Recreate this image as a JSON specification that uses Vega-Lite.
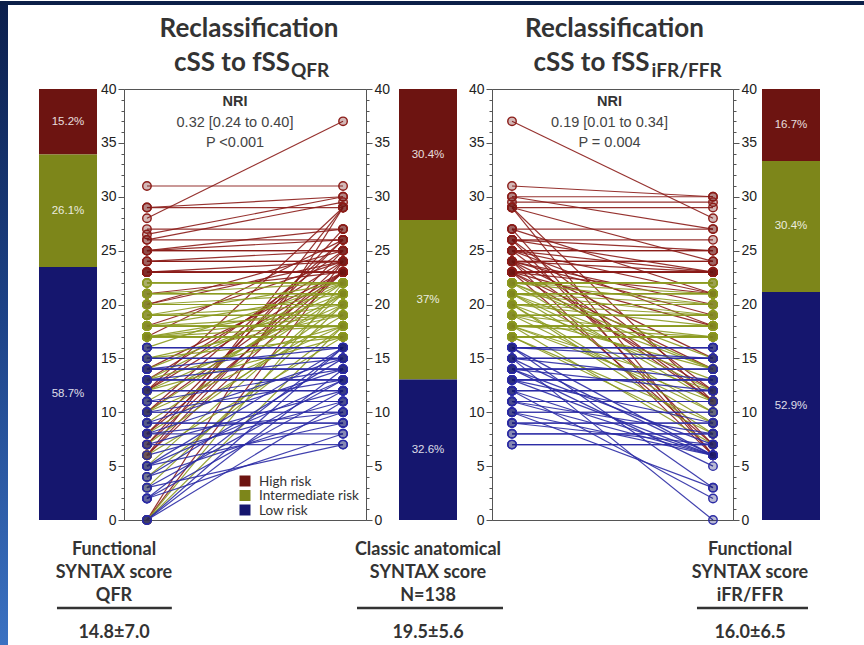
{
"$schema":"https://vega.github.io/schema/vega-lite/v6.json",
"padding":0,
"background":"white",
"config":{"view":{"stroke":null},"axis":{"labelFont":"Liberation Sans, Arial, sans-serif"}},
"datasets":{
"patients":[
{"id":1,"css":37,"qfr":28,"ifr":28,"risk":"High risk"},
{"id":2,"css":31,"qfr":31,"ifr":30,"risk":"High risk"},
{"id":3,"css":30,"qfr":26.5,"ifr":30,"risk":"High risk"},
{"id":4,"css":30,"qfr":29,"ifr":27,"risk":"High risk"},
{"id":5,"css":29.5,"qfr":26,"ifr":29.5,"risk":"High risk"},
{"id":6,"css":29,"qfr":29,"ifr":29,"risk":"High risk"},
{"id":7,"css":29,"qfr":0,"ifr":6,"risk":"High risk"},
{"id":8,"css":29,"qfr":6,"ifr":24,"risk":"High risk"},
{"id":9,"css":29,"qfr":12,"ifr":11,"risk":"High risk"},
{"id":10,"css":27,"qfr":27,"ifr":27,"risk":"High risk"},
{"id":11,"css":27,"qfr":25,"ifr":21,"risk":"High risk"},
{"id":12,"css":27,"qfr":7,"ifr":6,"risk":"High risk"},
{"id":13,"css":26,"qfr":26,"ifr":26,"risk":"High risk"},
{"id":14,"css":26,"qfr":25,"ifr":23,"risk":"High risk"},
{"id":15,"css":26,"qfr":17,"ifr":25,"risk":"High risk"},
{"id":16,"css":26,"qfr":8,"ifr":12,"risk":"High risk"},
{"id":17,"css":26,"qfr":10,"ifr":7,"risk":"High risk"},
{"id":18,"css":25,"qfr":25,"ifr":25,"risk":"High risk"},
{"id":19,"css":25,"qfr":25,"ifr":25,"risk":"High risk"},
{"id":20,"css":25,"qfr":24,"ifr":23,"risk":"High risk"},
{"id":21,"css":25,"qfr":6,"ifr":11,"risk":"High risk"},
{"id":22,"css":25,"qfr":12,"ifr":18,"risk":"High risk"},
{"id":23,"css":25,"qfr":20,"ifr":21,"risk":"High risk"},
{"id":24,"css":24,"qfr":24,"ifr":24,"risk":"High risk"},
{"id":25,"css":24,"qfr":24,"ifr":24,"risk":"High risk"},
{"id":26,"css":24,"qfr":23,"ifr":23,"risk":"High risk"},
{"id":27,"css":24,"qfr":13,"ifr":20,"risk":"High risk"},
{"id":28,"css":24,"qfr":7,"ifr":6,"risk":"High risk"},
{"id":29,"css":24,"qfr":18,"ifr":11,"risk":"High risk"},
{"id":30,"css":24,"qfr":0,"ifr":19,"risk":"High risk"},
{"id":31,"css":24,"qfr":20,"ifr":15,"risk":"High risk"},
{"id":32,"css":23,"qfr":23,"ifr":23,"risk":"High risk"},
{"id":33,"css":23,"qfr":23,"ifr":23,"risk":"High risk"},
{"id":34,"css":23,"qfr":23,"ifr":23,"risk":"High risk"},
{"id":35,"css":23,"qfr":23,"ifr":23,"risk":"High risk"},
{"id":36,"css":23,"qfr":12,"ifr":14,"risk":"High risk"},
{"id":37,"css":23,"qfr":14,"ifr":7,"risk":"High risk"},
{"id":38,"css":23,"qfr":8,"ifr":21,"risk":"High risk"},
{"id":39,"css":23,"qfr":23,"ifr":23,"risk":"High risk"},
{"id":40,"css":23,"qfr":21,"ifr":23,"risk":"High risk"},
{"id":41,"css":23,"qfr":6,"ifr":12,"risk":"High risk"},
{"id":42,"css":23,"qfr":10,"ifr":18,"risk":"High risk"},
{"id":43,"css":22,"qfr":22,"ifr":22,"risk":"Intermediate risk"},
{"id":44,"css":22,"qfr":22,"ifr":22,"risk":"Intermediate risk"},
{"id":45,"css":22,"qfr":21,"ifr":22,"risk":"Intermediate risk"},
{"id":46,"css":22,"qfr":22,"ifr":15,"risk":"Intermediate risk"},
{"id":47,"css":22,"qfr":16,"ifr":14,"risk":"Intermediate risk"},
{"id":48,"css":22,"qfr":10,"ifr":22,"risk":"Intermediate risk"},
{"id":49,"css":22,"qfr":0,"ifr":20,"risk":"Intermediate risk"},
{"id":50,"css":22,"qfr":19,"ifr":11,"risk":"Intermediate risk"},
{"id":51,"css":22,"qfr":13,"ifr":21,"risk":"Intermediate risk"},
{"id":52,"css":21,"qfr":21,"ifr":21,"risk":"Intermediate risk"},
{"id":53,"css":21,"qfr":21,"ifr":21,"risk":"Intermediate risk"},
{"id":54,"css":21,"qfr":20,"ifr":21,"risk":"Intermediate risk"},
{"id":55,"css":21,"qfr":21,"ifr":20,"risk":"Intermediate risk"},
{"id":56,"css":21,"qfr":11,"ifr":19,"risk":"Intermediate risk"},
{"id":57,"css":21,"qfr":5,"ifr":21,"risk":"Intermediate risk"},
{"id":58,"css":21,"qfr":18,"ifr":14,"risk":"Intermediate risk"},
{"id":59,"css":21,"qfr":21,"ifr":12,"risk":"Intermediate risk"},
{"id":60,"css":21,"qfr":14,"ifr":10,"risk":"Intermediate risk"},
{"id":61,"css":21,"qfr":9,"ifr":21,"risk":"Intermediate risk"},
{"id":62,"css":20,"qfr":20,"ifr":20,"risk":"Intermediate risk"},
{"id":63,"css":20,"qfr":20,"ifr":9,"risk":"Intermediate risk"},
{"id":64,"css":20,"qfr":19,"ifr":20,"risk":"Intermediate risk"},
{"id":65,"css":20,"qfr":12,"ifr":18,"risk":"Intermediate risk"},
{"id":66,"css":20,"qfr":20,"ifr":8,"risk":"Intermediate risk"},
{"id":67,"css":20,"qfr":7,"ifr":20,"risk":"Intermediate risk"},
{"id":68,"css":20,"qfr":17,"ifr":13,"risk":"Intermediate risk"},
{"id":69,"css":20,"qfr":3,"ifr":19,"risk":"Intermediate risk"},
{"id":70,"css":19,"qfr":19,"ifr":19,"risk":"Intermediate risk"},
{"id":71,"css":19,"qfr":19,"ifr":19,"risk":"Intermediate risk"},
{"id":72,"css":19,"qfr":18,"ifr":19,"risk":"Intermediate risk"},
{"id":73,"css":19,"qfr":17,"ifr":17,"risk":"Intermediate risk"},
{"id":74,"css":19,"qfr":19,"ifr":10,"risk":"Intermediate risk"},
{"id":75,"css":19,"qfr":8,"ifr":19,"risk":"Intermediate risk"},
{"id":76,"css":19,"qfr":15,"ifr":14,"risk":"Intermediate risk"},
{"id":77,"css":18,"qfr":18,"ifr":18,"risk":"Intermediate risk"},
{"id":78,"css":18,"qfr":18,"ifr":18,"risk":"Intermediate risk"},
{"id":79,"css":18,"qfr":18,"ifr":17,"risk":"Intermediate risk"},
{"id":80,"css":18,"qfr":10,"ifr":18,"risk":"Intermediate risk"},
{"id":81,"css":18,"qfr":17,"ifr":12,"risk":"Intermediate risk"},
{"id":82,"css":18,"qfr":4,"ifr":18,"risk":"Intermediate risk"},
{"id":83,"css":18,"qfr":18,"ifr":7,"risk":"Intermediate risk"},
{"id":84,"css":18,"qfr":13,"ifr":18,"risk":"Intermediate risk"},
{"id":85,"css":18,"qfr":0,"ifr":11,"risk":"Intermediate risk"},
{"id":86,"css":17,"qfr":17,"ifr":17,"risk":"Intermediate risk"},
{"id":87,"css":17,"qfr":17,"ifr":17,"risk":"Intermediate risk"},
{"id":88,"css":17,"qfr":17,"ifr":17,"risk":"Intermediate risk"},
{"id":89,"css":17,"qfr":12,"ifr":17,"risk":"Intermediate risk"},
{"id":90,"css":17,"qfr":17,"ifr":9,"risk":"Intermediate risk"},
{"id":91,"css":17,"qfr":6,"ifr":17,"risk":"Intermediate risk"},
{"id":92,"css":17,"qfr":15,"ifr":17,"risk":"Intermediate risk"},
{"id":93,"css":17,"qfr":17,"ifr":8,"risk":"Intermediate risk"},
{"id":94,"css":16,"qfr":16,"ifr":16,"risk":"Low risk"},
{"id":95,"css":16,"qfr":16,"ifr":16,"risk":"Low risk"},
{"id":96,"css":16,"qfr":0,"ifr":16,"risk":"Low risk"},
{"id":97,"css":16,"qfr":16,"ifr":6,"risk":"Low risk"},
{"id":98,"css":16,"qfr":5,"ifr":16,"risk":"Low risk"},
{"id":99,"css":16,"qfr":14,"ifr":15,"risk":"Low risk"},
{"id":100,"css":16,"qfr":2,"ifr":3,"risk":"Low risk"},
{"id":101,"css":15,"qfr":15,"ifr":15,"risk":"Low risk"},
{"id":102,"css":15,"qfr":15,"ifr":15,"risk":"Low risk"},
{"id":103,"css":15,"qfr":4,"ifr":15,"risk":"Low risk"},
{"id":104,"css":15,"qfr":15,"ifr":0,"risk":"Low risk"},
{"id":105,"css":15,"qfr":9,"ifr":13,"risk":"Low risk"},
{"id":106,"css":15,"qfr":13,"ifr":6,"risk":"Low risk"},
{"id":107,"css":14,"qfr":14,"ifr":14,"risk":"Low risk"},
{"id":108,"css":14,"qfr":14,"ifr":14,"risk":"Low risk"},
{"id":109,"css":14,"qfr":8,"ifr":14,"risk":"Low risk"},
{"id":110,"css":14,"qfr":0,"ifr":7,"risk":"Low risk"},
{"id":111,"css":14,"qfr":14,"ifr":5,"risk":"Low risk"},
{"id":112,"css":14,"qfr":11,"ifr":12,"risk":"Low risk"},
{"id":113,"css":13,"qfr":13,"ifr":13,"risk":"Low risk"},
{"id":114,"css":13,"qfr":13,"ifr":13,"risk":"Low risk"},
{"id":115,"css":13,"qfr":5,"ifr":13,"risk":"Low risk"},
{"id":116,"css":13,"qfr":13,"ifr":6,"risk":"Low risk"},
{"id":117,"css":13,"qfr":3,"ifr":9,"risk":"Low risk"},
{"id":118,"css":13,"qfr":10,"ifr":13,"risk":"Low risk"},
{"id":119,"css":12,"qfr":12,"ifr":12,"risk":"Low risk"},
{"id":120,"css":12,"qfr":12,"ifr":12,"risk":"Low risk"},
{"id":121,"css":12,"qfr":7,"ifr":2,"risk":"Low risk"},
{"id":122,"css":12,"qfr":2,"ifr":12,"risk":"Low risk"},
{"id":123,"css":12,"qfr":12,"ifr":6,"risk":"Low risk"},
{"id":124,"css":11,"qfr":11,"ifr":11,"risk":"Low risk"},
{"id":125,"css":11,"qfr":11,"ifr":11,"risk":"Low risk"},
{"id":126,"css":11,"qfr":0,"ifr":6,"risk":"Low risk"},
{"id":127,"css":11,"qfr":6,"ifr":8,"risk":"Low risk"},
{"id":128,"css":10,"qfr":10,"ifr":10,"risk":"Low risk"},
{"id":129,"css":10,"qfr":10,"ifr":10,"risk":"Low risk"},
{"id":130,"css":10,"qfr":4,"ifr":6,"risk":"Low risk"},
{"id":131,"css":10,"qfr":8,"ifr":3,"risk":"Low risk"},
{"id":132,"css":9,"qfr":9,"ifr":9,"risk":"Low risk"},
{"id":133,"css":9,"qfr":9,"ifr":9,"risk":"Low risk"},
{"id":134,"css":9,"qfr":5,"ifr":7,"risk":"Low risk"},
{"id":135,"css":8,"qfr":8,"ifr":8,"risk":"Low risk"},
{"id":136,"css":8,"qfr":2,"ifr":8,"risk":"Low risk"},
{"id":137,"css":7,"qfr":7,"ifr":7,"risk":"Low risk"},
{"id":138,"css":7,"qfr":3,"ifr":7,"risk":"Low risk"}
],
"bars":[
{"m":"qfr","risk":"High risk","pct":15.2},
{"m":"qfr","risk":"Intermediate risk","pct":26.1},
{"m":"qfr","risk":"Low risk","pct":58.7},
{"m":"css","risk":"High risk","pct":30.4},
{"m":"css","risk":"Intermediate risk","pct":37},
{"m":"css","risk":"Low risk","pct":32.6},
{"m":"ifr","risk":"High risk","pct":16.7},
{"m":"ifr","risk":"Intermediate risk","pct":30.4},
{"m":"ifr","risk":"Low risk","pct":52.9}
]
},
"hconcat":[
  {"width":8,"height":431,"data":{"values":[{}]},
   "layer":[
    {"mark":{"type":"rect","color":{"gradient":"linear","x1":0,"y1":0,"x2":0,"y2":1,"stops":[{"offset":0,"color":"#0c1f4c"},{"offset":0.5,"color":"#1d4388"},{"offset":1,"color":"#3b72c2"}]}},
     "encoding":{"x":{"datum":0,"type":"quantitative","scale":{"domain":[0,1],"nice":false,"zero":false},"axis":null},"x2":{"datum":1},"y":{"datum":-0.29234,"type":"quantitative","scale":{"domain":[0,1],"nice":false,"zero":false},"axis":null},"y2":{"datum":1.20418}}},
    {"mark":{"type":"rect","color":"#0c1f48"},
     "encoding":{"x":{"datum":0,"type":"quantitative","scale":{"domain":[0,1],"nice":false,"zero":false},"axis":null},"x2":{"datum":108},"y":{"datum":1.1949,"type":"quantitative","scale":{"domain":[0,1],"nice":false,"zero":false},"axis":null},"y2":{"datum":1.20418}}}
   ]},
  {"width":96,"height":431,
   "layer":[
    {"data":{"name":"bars"},
     "transform":[{"filter":"datum.m === 'qfr'"},{"stack":"pct","groupby":["m"],"sort":[{"field":"risk","order":"descending"}],"as":["y0","y1"]},{"calculate":"(datum.y0+datum.y1)/2","as":"ym"},{"calculate":"datum.pct + '%'","as":"lab"}],
     "layer":[
      {"mark":{"type":"rect"},"encoding":{"x":{"datum":0,"type":"quantitative","scale":{"domain":[-0.362,1.293],"nice":false,"zero":false},"axis":null},"x2":{"datum":1},"y":{"field":"y0","type":"quantitative","scale":{"domain":[0,100],"nice":false},"axis":null},"y2":{"field":"y1"},"fill":{"field":"risk","type":"nominal","scale":{"domain":["High risk","Intermediate risk","Low risk"],"range":["#6d1411","#7d861a","#15166e"]},"legend":null}}},
      {"mark":{"type":"text","font":"Liberation Sans, Arial, sans-serif","fontSize":11.5,"color":"white","opacity":0.85},"encoding":{"x":{"datum":0.5,"type":"quantitative","scale":{"domain":[-0.362,1.293],"nice":false,"zero":false},"axis":null},"y":{"field":"ym","type":"quantitative","scale":{"domain":[0,100],"nice":false},"axis":null},"text":{"field":"lab"}}}
     ]},
    {"data":{"values":[{}]},"mark":{"type":"text","text":["Functional","SYNTAX score","QFR"],"lineHeight":23,"baseline":"alphabetic","font":"Lato, Liberation Sans, sans-serif","fontSize":18,"fontWeight":"bold","color":"#333"},
     "encoding":{"x":{"datum":1.293,"type":"quantitative","scale":{"domain":[-0.362,1.293],"nice":false,"zero":false},"axis":null},"y":{"datum":-8.12,"type":"quantitative","scale":{"domain":[0,100],"nice":false},"axis":null}}},
    {"data":{"values":[{}]},"mark":{"type":"text","text":"14.8±7.0","baseline":"alphabetic","font":"Lato, Liberation Sans, sans-serif","fontSize":18,"fontWeight":"bold","color":"#333"},
     "encoding":{"x":{"datum":1.293,"type":"quantitative","scale":{"domain":[-0.362,1.293],"nice":false,"zero":false},"axis":null},"y":{"datum":-27.4,"type":"quantitative","scale":{"domain":[0,100],"nice":false},"axis":null}}},
    {"data":{"values":[{}]},"mark":{"type":"rule","color":"#333","strokeWidth":2.5},
     "encoding":{"x":{"datum":0.31,"type":"quantitative","scale":{"domain":[-0.362,1.293],"nice":false,"zero":false},"axis":null},"x2":{"datum":2.29},"y":{"datum":-20.42,"type":"quantitative","scale":{"domain":[0,100],"nice":false},"axis":null}}}
   ]},
  {"width":242,"height":431,"view":{"stroke":"#555","strokeWidth":1},
   "layer":[
    {"data":{"name":"patients"},"transform":[{"fold":["qfr","css"],"as":["method","score"]}],
     "mark":{"type":"line","strokeWidth":1.2,"opacity":0.9},
     "encoding":{
      "x":{"field":"method","type":"nominal","scale":{"type":"point","domain":["qfr","css"],"padding":0.117},"axis":null},
      "y":{"field":"score","type":"quantitative","scale":{"domain":[0,40],"nice":false},"axis":{"orient":"left","values":[0,5,10,15,20,25,30,35,40],"title":null,"grid":false,"tickSize":6,"labelPadding":2,"labelFontSize":14,"labelColor":"#222","domainColor":"#555","tickColor":"#555"}},
      "color":{"field":"risk","type":"nominal","scale":{"domain":["High risk","Intermediate risk","Low risk"],"range":["#8b1c18","#8c9a20","#2b2ba5"]},"legend":null},
      "detail":{"field":"id"}}},
    {"data":{"name":"patients"},"transform":[{"fold":["qfr","css"],"as":["method","score"]}],
     "mark":{"type":"point","shape":"circle","filled":true,"size":72,"strokeWidth":1.4,"fillOpacity":0.3,"strokeOpacity":1},
     "encoding":{
      "x":{"field":"method","type":"nominal","scale":{"type":"point","domain":["qfr","css"],"padding":0.117},"axis":null},
      "y":{"field":"score","type":"quantitative","scale":{"domain":[0,40],"nice":false},"axis":{"orient":"right","values":[0,5,10,15,20,25,30,35,40],"title":null,"grid":false,"tickSize":6,"labelPadding":2,"labelFontSize":14,"labelColor":"#222","domainColor":"#555","tickColor":"#555"}},
      "fill":{"field":"risk","type":"nominal","scale":{"domain":["High risk","Intermediate risk","Low risk"],"range":["#6d1411","#7d861a","#15166e"]},"legend":null},
      "stroke":{"field":"risk","type":"nominal","scale":{"domain":["High risk","Intermediate risk","Low risk"],"range":["#8b1c18","#8c9a20","#2b2ba5"]},"legend":null}}},
    {"data":{"name":"patients"},"transform":[{"fold":["qfr","css"],"as":["method","score"]}],
     "mark":{"type":"point","opacity":0},
     "encoding":{"x":{"field":"method","type":"nominal","scale":{"type":"point","domain":["qfr","css"],"padding":0.117},"axis":null},
      "y":{"field":"score","type":"quantitative","scale":{"domain":[0,40],"nice":false},"axis":{"orient":"left","values":[1,2,3,4,6,7,8,9,11,12,13,14,16,17,18,19,21,22,23,24,26,27,28,29,31,32,33,34,36,37,38,39],"labels":false,"domain":false,"title":null,"grid":false,"tickSize":3,"tickColor":"#555"}}}},
    {"data":{"name":"patients"},"transform":[{"fold":["qfr","css"],"as":["method","score"]}],
     "mark":{"type":"point","opacity":0},
     "encoding":{"x":{"field":"method","type":"nominal","scale":{"type":"point","domain":["qfr","css"],"padding":0.117},"axis":null},
      "y":{"field":"score","type":"quantitative","scale":{"domain":[0,40],"nice":false},"axis":{"orient":"right","values":[1,2,3,4,6,7,8,9,11,12,13,14,16,17,18,19,21,22,23,24,26,27,28,29,31,32,33,34,36,37,38,39],"labels":false,"domain":false,"title":null,"grid":false,"tickSize":3,"tickColor":"#555"}}}},
    {"data":{"values":[{}]},"mark":{"type":"point","shape":"square","filled":true,"size":121,"opacity":1,"color":"#6d1411","dx":1.5},
     "encoding":{"y":{"datum":3.62,"type":"quantitative","scale":{"domain":[0,40],"nice":false},"axis":null}}},
    {"data":{"values":[{}]},"mark":{"type":"point","shape":"square","filled":true,"size":121,"opacity":1,"color":"#7d861a","dx":1.5},
     "encoding":{"y":{"datum":2.274,"type":"quantitative","scale":{"domain":[0,40],"nice":false},"axis":null}}},
    {"data":{"values":[{}]},"mark":{"type":"point","shape":"square","filled":true,"size":121,"opacity":1,"color":"#15166e","dx":1.5},
     "encoding":{"y":{"datum":0.928,"type":"quantitative","scale":{"domain":[0,40],"nice":false},"axis":null}}},
    {"data":{"values":[{}]},"mark":{"type":"text","text":["High risk","Intermediate risk","Low risk"],"lineHeight":14.5,"baseline":"alphabetic","align":"left","font":"Lato, Liberation Sans, sans-serif","fontSize":13.5,"color":"#333","dx":14},
     "encoding":{"y":{"datum":3.2,"type":"quantitative","scale":{"domain":[0,40],"nice":false},"axis":null}}},
    {"data":{"values":[{}]},"mark":{"type":"text","text":"Reclassification","font":"Lato, Liberation Sans, sans-serif","fontSize":26,"fontWeight":"bold","color":"#333","dx":4},
     "encoding":{"y":{"datum":45.57,"type":"quantitative","scale":{"domain":[0,40],"nice":false},"axis":null}}},
    {"data":{"values":[{}]},"mark":{"type":"text","text":"cSS to fSS","align":"right","font":"Lato, Liberation Sans, sans-serif","fontSize":26,"fontWeight":"bold","color":"#333","dx":45},
     "encoding":{"y":{"datum":42.41,"type":"quantitative","scale":{"domain":[0,40],"nice":false},"axis":null}}},
    {"data":{"values":[{}]},"mark":{"type":"text","text":"QFR","align":"left","font":"Lato, Liberation Sans, sans-serif","fontSize":19,"fontWeight":"bold","color":"#333","dx":46},
     "encoding":{"y":{"datum":41.67,"type":"quantitative","scale":{"domain":[0,40],"nice":false},"axis":null}}},
    {"data":{"values":[{}]},"mark":{"type":"text","text":"NRI","font":"Liberation Sans, Arial, sans-serif","fontSize":14.5,"fontWeight":"bold","color":"#333","dx":-10},
     "encoding":{"y":{"datum":38.82,"type":"quantitative","scale":{"domain":[0,40],"nice":false},"axis":null}}},
    {"data":{"values":[{}]},"mark":{"type":"text","text":"0.32 [0.24 to 0.40]","font":"Liberation Sans, Arial, sans-serif","fontSize":14.5,"color":"#444","dx":-10},
     "encoding":{"y":{"datum":36.87,"type":"quantitative","scale":{"domain":[0,40],"nice":false},"axis":null}}},
    {"data":{"values":[{}]},"mark":{"type":"text","text":"P <0.001","font":"Liberation Sans, Arial, sans-serif","fontSize":14.5,"color":"#444","dx":-10},
     "encoding":{"y":{"datum":35.02,"type":"quantitative","scale":{"domain":[0,40],"nice":false},"axis":null}}}
   ],
   "resolve":{"axis":{"y":"independent"}}},
  {"width":106,"height":431,
   "layer":[
    {"data":{"name":"bars"},
     "transform":[{"filter":"datum.m === 'css'"},{"stack":"pct","groupby":["m"],"sort":[{"field":"risk","order":"descending"}],"as":["y0","y1"]},{"calculate":"(datum.y0+datum.y1)/2","as":"ym"},{"calculate":"datum.pct + '%'","as":"lab"}],
     "layer":[
      {"mark":{"type":"rect"},"encoding":{"x":{"datum":0,"type":"quantitative","scale":{"domain":[-0.3966,1.431],"nice":false,"zero":false},"axis":null},"x2":{"datum":1},"y":{"field":"y0","type":"quantitative","scale":{"domain":[0,100],"nice":false},"axis":null},"y2":{"field":"y1"},"fill":{"field":"risk","type":"nominal","scale":{"domain":["High risk","Intermediate risk","Low risk"],"range":["#6d1411","#7d861a","#15166e"]},"legend":null}}},
      {"mark":{"type":"text","font":"Liberation Sans, Arial, sans-serif","fontSize":11.5,"color":"white","opacity":0.85},"encoding":{"x":{"datum":0.5,"type":"quantitative","scale":{"domain":[-0.3966,1.431],"nice":false,"zero":false},"axis":null},"y":{"field":"ym","type":"quantitative","scale":{"domain":[0,100],"nice":false},"axis":null},"text":{"field":"lab"}}}
     ]},
    {"data":{"values":[{}]},"mark":{"type":"text","text":["Classic anatomical","SYNTAX score","N=138"],"lineHeight":23,"baseline":"alphabetic","font":"Lato, Liberation Sans, sans-serif","fontSize":18,"fontWeight":"bold","color":"#333"},
     "encoding":{"x":{"datum":0.5,"type":"quantitative","scale":{"domain":[-0.3966,1.431],"nice":false,"zero":false},"axis":null},"y":{"datum":-8.12,"type":"quantitative","scale":{"domain":[0,100],"nice":false},"axis":null}}},
    {"data":{"values":[{}]},"mark":{"type":"text","text":"19.5±5.6","baseline":"alphabetic","font":"Lato, Liberation Sans, sans-serif","fontSize":18,"fontWeight":"bold","color":"#333"},
     "encoding":{"x":{"datum":0.5,"type":"quantitative","scale":{"domain":[-0.3966,1.431],"nice":false,"zero":false},"axis":null},"y":{"datum":-27.4,"type":"quantitative","scale":{"domain":[0,100],"nice":false},"axis":null}}},
    {"data":{"values":[{}]},"mark":{"type":"rule","color":"#333","strokeWidth":2.5},
     "encoding":{"x":{"datum":-0.724,"type":"quantitative","scale":{"domain":[-0.3966,1.431],"nice":false,"zero":false},"axis":null},"x2":{"datum":1.793},"y":{"datum":-20.42,"type":"quantitative","scale":{"domain":[0,100],"nice":false},"axis":null}}}
   ]},
  {"width":241,"height":431,"view":{"stroke":"#555","strokeWidth":1},
   "layer":[
    {"data":{"name":"patients"},"transform":[{"fold":["css","ifr"],"as":["method","score"]}],
     "mark":{"type":"line","strokeWidth":1.2,"opacity":0.9},
     "encoding":{
      "x":{"field":"method","type":"nominal","scale":{"type":"point","domain":["css","ifr"],"padding":0.0995},"axis":null},
      "y":{"field":"score","type":"quantitative","scale":{"domain":[0,40],"nice":false},"axis":{"orient":"left","values":[0,5,10,15,20,25,30,35,40],"title":null,"grid":false,"tickSize":6,"labelPadding":2,"labelFontSize":14,"labelColor":"#222","domainColor":"#555","tickColor":"#555"}},
      "stroke":{"field":"risk","type":"nominal","scale":{"domain":["High risk","Intermediate risk","Low risk"],"range":["#8b1c18","#8c9a20","#2b2ba5"]},"legend":null},
      "detail":{"field":"id"}}},
    {"data":{"name":"patients"},"transform":[{"fold":["css","ifr"],"as":["method","score"]}],
     "mark":{"type":"point","shape":"circle","filled":true,"size":72,"strokeWidth":1.4,"fillOpacity":0.3,"strokeOpacity":1},
     "encoding":{
      "x":{"field":"method","type":"nominal","scale":{"type":"point","domain":["css","ifr"],"padding":0.0995},"axis":null},
      "y":{"field":"score","type":"quantitative","scale":{"domain":[0,40],"nice":false},"axis":{"orient":"right","values":[0,5,10,15,20,25,30,35,40],"title":null,"grid":false,"tickSize":6,"labelPadding":2,"labelFontSize":14,"labelColor":"#222","domainColor":"#555","tickColor":"#555"}},
      "fill":{"field":"risk","type":"nominal","scale":{"domain":["High risk","Intermediate risk","Low risk"],"range":["#6d1411","#7d861a","#15166e"]},"legend":null},
      "stroke":{"field":"risk","type":"nominal","scale":{"domain":["High risk","Intermediate risk","Low risk"],"range":["#8b1c18","#8c9a20","#2b2ba5"]},"legend":null}}},
    {"data":{"name":"patients"},"transform":[{"fold":["css","ifr"],"as":["method","score"]}],
     "mark":{"type":"point","opacity":0},
     "encoding":{"x":{"field":"method","type":"nominal","scale":{"type":"point","domain":["css","ifr"],"padding":0.0995},"axis":null},
      "y":{"field":"score","type":"quantitative","scale":{"domain":[0,40],"nice":false},"axis":{"orient":"left","values":[1,2,3,4,6,7,8,9,11,12,13,14,16,17,18,19,21,22,23,24,26,27,28,29,31,32,33,34,36,37,38,39],"labels":false,"domain":false,"title":null,"grid":false,"tickSize":3,"tickColor":"#555"}}}},
    {"data":{"name":"patients"},"transform":[{"fold":["css","ifr"],"as":["method","score"]}],
     "mark":{"type":"point","opacity":0},
     "encoding":{"x":{"field":"method","type":"nominal","scale":{"type":"point","domain":["css","ifr"],"padding":0.0995},"axis":null},
      "y":{"field":"score","type":"quantitative","scale":{"domain":[0,40],"nice":false},"axis":{"orient":"right","values":[1,2,3,4,6,7,8,9,11,12,13,14,16,17,18,19,21,22,23,24,26,27,28,29,31,32,33,34,36,37,38,39],"labels":false,"domain":false,"title":null,"grid":false,"tickSize":3,"tickColor":"#555"}}}},
    {"data":{"values":[{}]},"mark":{"type":"text","text":"Reclassification","font":"Lato, Liberation Sans, sans-serif","fontSize":26,"fontWeight":"bold","color":"#333","dx":2},
     "encoding":{"y":{"datum":45.57,"type":"quantitative","scale":{"domain":[0,40],"nice":false},"axis":null}}},
    {"data":{"values":[{}]},"mark":{"type":"text","text":"cSS to fSS","align":"right","font":"Lato, Liberation Sans, sans-serif","fontSize":26,"fontWeight":"bold","color":"#333","dx":37},
     "encoding":{"y":{"datum":42.41,"type":"quantitative","scale":{"domain":[0,40],"nice":false},"axis":null}}},
    {"data":{"values":[{}]},"mark":{"type":"text","text":"iFR/FFR","align":"left","font":"Lato, Liberation Sans, sans-serif","fontSize":19,"fontWeight":"bold","color":"#333","dx":39},
     "encoding":{"y":{"datum":41.67,"type":"quantitative","scale":{"domain":[0,40],"nice":false},"axis":null}}},
    {"data":{"values":[{}]},"mark":{"type":"text","text":"NRI","font":"Liberation Sans, Arial, sans-serif","fontSize":14.5,"fontWeight":"bold","color":"#333","dx":-3},
     "encoding":{"y":{"datum":38.82,"type":"quantitative","scale":{"domain":[0,40],"nice":false},"axis":null}}},
    {"data":{"values":[{}]},"mark":{"type":"text","text":"0.19 [0.01 to 0.34]","font":"Liberation Sans, Arial, sans-serif","fontSize":14.5,"color":"#444","dx":-3},
     "encoding":{"y":{"datum":36.87,"type":"quantitative","scale":{"domain":[0,40],"nice":false},"axis":null}}},
    {"data":{"values":[{}]},"mark":{"type":"text","text":"P = 0.004","font":"Liberation Sans, Arial, sans-serif","fontSize":14.5,"color":"#444","dx":-3},
     "encoding":{"y":{"datum":35.02,"type":"quantitative","scale":{"domain":[0,40],"nice":false},"axis":null}}}
   ],
   "resolve":{"axis":{"y":"independent"}}},
  {"width":110,"height":431,
   "layer":[
    {"data":{"name":"bars"},
     "transform":[{"filter":"datum.m === 'ifr'"},{"stack":"pct","groupby":["m"],"sort":[{"field":"risk","order":"descending"}],"as":["y0","y1"]},{"calculate":"(datum.y0+datum.y1)/2","as":"ym"},{"calculate":"datum.pct + '%'","as":"lab"}],
     "layer":[
      {"mark":{"type":"rect"},"encoding":{"x":{"datum":0,"type":"quantitative","scale":{"domain":[-0.3276,1.569],"nice":false,"zero":false},"axis":null},"x2":{"datum":1},"y":{"field":"y0","type":"quantitative","scale":{"domain":[0,100],"nice":false},"axis":null},"y2":{"field":"y1"},"fill":{"field":"risk","type":"nominal","scale":{"domain":["High risk","Intermediate risk","Low risk"],"range":["#6d1411","#7d861a","#15166e"]},"legend":null}}},
      {"mark":{"type":"text","font":"Liberation Sans, Arial, sans-serif","fontSize":11.5,"color":"white","opacity":0.85},"encoding":{"x":{"datum":0.5,"type":"quantitative","scale":{"domain":[-0.3276,1.569],"nice":false,"zero":false},"axis":null},"y":{"field":"ym","type":"quantitative","scale":{"domain":[0,100],"nice":false},"axis":null},"text":{"field":"lab"}}}
     ]},
    {"data":{"values":[{}]},"mark":{"type":"text","text":["Functional","SYNTAX score","iFR/FFR"],"lineHeight":23,"baseline":"alphabetic","font":"Lato, Liberation Sans, sans-serif","fontSize":18,"fontWeight":"bold","color":"#333"},
     "encoding":{"x":{"datum":-0.207,"type":"quantitative","scale":{"domain":[-0.3276,1.569],"nice":false,"zero":false},"axis":null},"y":{"datum":-8.12,"type":"quantitative","scale":{"domain":[0,100],"nice":false},"axis":null}}},
    {"data":{"values":[{}]},"mark":{"type":"text","text":"16.0±6.5","baseline":"alphabetic","font":"Lato, Liberation Sans, sans-serif","fontSize":18,"fontWeight":"bold","color":"#333"},
     "encoding":{"x":{"datum":-0.207,"type":"quantitative","scale":{"domain":[-0.3276,1.569],"nice":false,"zero":false},"axis":null},"y":{"datum":-27.4,"type":"quantitative","scale":{"domain":[0,100],"nice":false},"axis":null}}},
    {"data":{"values":[{}]},"mark":{"type":"rule","color":"#333","strokeWidth":2.5},
     "encoding":{"x":{"datum":-1.121,"type":"quantitative","scale":{"domain":[-0.3276,1.569],"nice":false,"zero":false},"axis":null},"x2":{"datum":0.793},"y":{"datum":-20.42,"type":"quantitative","scale":{"domain":[0,100],"nice":false},"axis":null}}}
   ]}
],
"spacing":10,"bounds":"flush",
"resolve":{"scale":{"x":"independent","y":"independent"}}
}
